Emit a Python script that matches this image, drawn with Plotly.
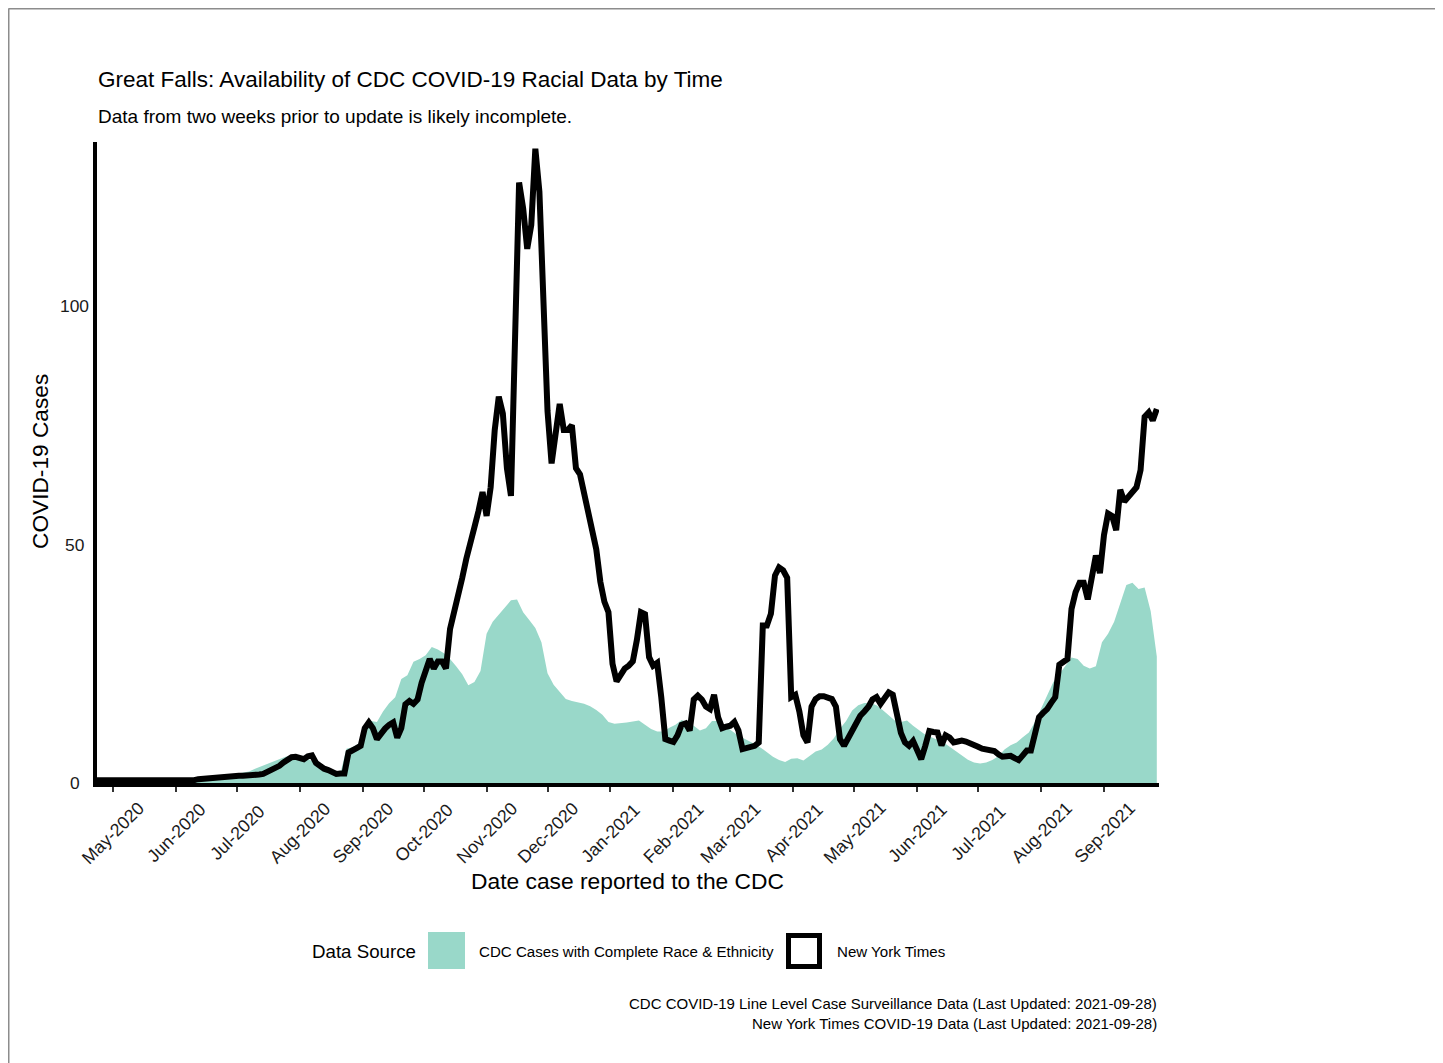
import pandas as pd
import plotly.graph_objects as go

# ---------------- data ----------------
nyt_start = "2020-04-23"   # every 2 days
nyt_cases = [
    0.6, 0.6, 0.6, 0.6, 0.6, 0.6, 0.6, 0.6,
    0.5, 0.5, 0.5, 0.5, 0.5, 0.5, 0.4, 0.4, 0.4,
    0.3, 0.3, 0.3, 0.3, 0.4, 0.5, 0.5, 0.6,
    0.8, 0.9, 1.0, 1.1, 1.2, 1.2, 1.3, 1.4,
    1.4, 1.4, 1.5, 1.5, 1.5, 1.6, 1.8, 1.8,
    1.9, 2.3, 2.7, 3.2, 3.6, 4.3, 4.8, 5.4,
    5.5, 5.4, 5.0, 5.6, 5.8, 4.2, 3.5, 3.0,
    2.7, 2.3, 1.9, 2.0, 2.0, 6.4, 7.0, 7.3,
    7.8, 11.5, 12.7, 11.5, 9.2, 10.4, 11.4, 12.2,
    12.7, 9.5, 11.5, 16.5, 17.2, 16.6, 17.5, 21.0,
    23.7, 26.0, 24.0, 25.5, 25.5, 24.0, 32.3, 35.5,
    39.0, 43.0, 47.0, 51.0, 53.6, 57.0, 61.0, 56.0,
    62.0, 74.0, 81.0, 77.5, 66.0, 60.2, 96.0, 125.9,
    120.5, 112.0, 117.0, 133.0, 124.0, 97.0, 78.0, 67.0,
    74.0, 79.5, 74.0, 74.0, 75.0, 66.0, 64.7, 61.0,
    57.0, 54.0, 49.0, 42.2, 38.0, 35.8, 25.0, 21.3,
    22.7, 24.0, 24.6, 25.5, 30.0, 35.8, 35.4, 26.4,
    24.6, 25.2, 18.0, 9.2, 8.9, 8.6, 10.0, 12.2,
    12.5, 11.0, 17.5, 18.3, 17.5, 16.0, 15.5, 18.5,
    13.8, 11.5, 11.8, 12.0, 12.8, 11.0, 7.1, 7.3,
    7.8, 7.8, 8.5, 33.0, 33.0, 35.5, 43.5, 45.2,
    44.6, 43.0, 18.0, 18.5, 15.0, 10.0, 8.5, 16.0,
    17.6, 18.2, 18.2, 18.0, 17.6, 16.0, 9.2, 7.8,
    9.5, 11.0, 12.3, 14.1, 15.0, 16.0, 17.5, 18.0,
    16.6, 18.0, 19.0, 18.5, 14.0, 10.5, 8.5, 7.8,
    8.8, 6.5, 5.0, 7.8, 10.9, 10.7, 10.6, 7.9,
    10.0, 9.5, 8.5, 8.7, 8.9, 8.7, 8.4, 8.2,
    7.6, 7.2, 7.0, 6.9, 6.7, 6.0, 5.5, 5.6,
    5.7, 5.2, 4.8, 5.8, 6.8, 6.8, 10.0, 13.8,
    14.7, 15.5, 16.8, 18.0, 24.8, 25.5, 26.0, 36.5,
    40.0, 42.0, 42.0, 38.5, 43.0, 47.7, 44.0, 52.0,
    56.5, 56.0, 53.0, 61.5, 59.0, 60.0, 61.0, 62.0,
    65.6, 76.8, 77.7, 76.0, 78.4,
]

cdc_start = "2020-04-23"   # every 3 days
cdc_cases = [
    0.1, 0.1, 0.1, 0.1, 0.1, 0.2, 0.2, 0.2, 0.2, 0.2,
    0.3, 0.3, 0.3, 0.4, 0.5, 0.7, 0.9, 1.0, 1.1, 1.3,
    1.4, 1.5, 1.7, 1.9, 2.1, 2.4, 3.0, 3.5, 4.0, 4.6,
    5.1, 5.5, 5.7, 5.6, 5.4, 4.8, 4.1, 3.4, 2.8, 2.3,
    2.0, 7.2, 7.5, 8.3, 11.5, 13.0, 12.8, 15.0, 16.7, 18.0,
    21.8, 22.6, 25.4, 26.0, 26.8, 28.5, 28.0, 27.2, 26.0, 24.5,
    22.8, 20.5, 21.2, 23.5, 31.3, 33.8, 35.3, 36.8, 38.3, 38.5,
    35.8, 34.2, 32.5, 29.5, 23.0, 20.6, 19.1, 17.6, 17.2, 16.9,
    16.6, 16.1, 15.3, 14.3, 12.8, 12.4, 12.5, 12.7, 12.9, 13.1,
    12.2, 11.3, 10.8, 10.8, 11.6, 12.2, 13.2, 12.8, 12.0, 11.0,
    11.5, 13.0, 13.0, 12.1, 11.2, 10.2, 9.5, 8.9, 8.2, 7.4,
    6.5, 5.5, 4.8, 4.4, 5.1, 5.2, 4.7, 5.7, 6.6, 7.0,
    8.0, 9.4, 11.4, 13.0, 15.2, 16.3, 16.8, 16.8, 16.3, 15.3,
    14.3, 13.1, 12.8, 13.1, 12.0, 11.0, 10.1, 9.6, 9.1, 8.5,
    7.6, 6.7, 5.8, 4.9, 4.3, 4.1, 4.3, 4.8, 5.6, 7.0,
    7.9, 8.5, 9.6, 10.6, 12.8, 15.5, 18.4, 21.1, 22.8, 24.5,
    26.3, 26.0, 24.6, 24.0, 24.5, 29.5, 31.3, 33.8, 37.5, 41.5,
    42.0, 40.7, 41.0, 36.0, 26.5,
]

month_ticks = pd.date_range("2020-05-01", "2021-09-01", freq="MS")
month_labels = [d.strftime("%b-%Y") for d in month_ticks]
y_ticks = [0, 50, 100]
y_labels = ["0", "50", "100"]

title = "Great Falls: Availability of CDC COVID-19 Racial Data by Time"
subtitle = "Data from two weeks prior to update is likely incomplete."
x_title = "Date case reported to the CDC"
y_title = "COVID-19 Cases"
legend_title = "Data Source"
legend_cdc = "CDC Cases with Complete Race & Ethnicity"
legend_nyt = "New York Times"
captions = [
    "CDC COVID-19 Line Level Case Surveillance Data (Last Updated: 2021-09-28)",
    "New York Times COVID-19 Data (Last Updated: 2021-09-28)",
]

# ---------------- figure ----------------
TEAL = "#99d8c9"
FONT = "Liberation Sans, Arial, sans-serif"
OFF = 8                      # page offset of the plot div (body margin)
W, H = 1443 - OFF, 1063 - OFF
# plot area in page pixels
L, R, T, B = 97, 1159, 142, 783


def px(x):
    return (x - L) / (R - L)


def py(y):
    return (B - y) / (B - T)


nyt_dates = pd.date_range(nyt_start, periods=len(nyt_cases), freq="2D")
cdc_dates = pd.date_range(cdc_start, periods=len(cdc_cases), freq="3D")

fig = go.Figure()
fig.add_trace(go.Scatter(
    x=cdc_dates, y=cdc_cases, mode="lines", fill="tozeroy",
    line=dict(width=0, color=TEAL), fillcolor=TEAL,
    name=legend_cdc, showlegend=False,
))
fig.add_trace(go.Scatter(
    x=nyt_dates, y=nyt_cases, mode="lines",
    line=dict(width=6, color="black"),
    name=legend_nyt, showlegend=False,
))


def note(x, y, text, size, anchor="left", angle=0, xref="paper", yref="paper",
         color="black"):
    return dict(x=x, y=y, xref=xref, yref=yref, text=text, showarrow=False,
                xanchor=anchor, yanchor="middle", textangle=angle,
                font=dict(family=FONT, size=size, color=color))


annotations = [
    note(px(96), py(80), title, 22.5),
    note(px(96), py(116.5), subtitle, 19),
    note(px(40), py(462), y_title, 22.7, "center", -90),
    note(px(627.5), py(881), x_title, 22.8, "center"),
    note(px(310), py(951), legend_title, 18.7),
    note(px(477), py(951), legend_cdc, 15.1),
    note(px(835), py(951), legend_nyt, 15.1),
]
for i, cap in enumerate(captions):
    annotations.append(note(px(1159), py(1003 + 20 * i), cap, 15.0, "right"))
for d, lab in zip(month_ticks, month_labels):
    annotations.append(note(d, py(832.5), lab, 17.8, "center", -45,
                            xref="x", color="#1a1a1a"))
for v, lab in zip(y_ticks, y_labels):
    annotations.append(note(px(74.5), v, lab, 17.4, "center",
                            yref="y", color="#1a1a1a"))

shapes = [
    dict(type="rect", xref="paper", yref="paper",
         x0=px(428), x1=px(465), y0=py(969), y1=py(932),
         fillcolor=TEAL, line=dict(width=0)),
    dict(type="rect", xref="paper", yref="paper",
         x0=px(788.5), x1=px(819.5), y0=py(966.5), y1=py(935.5),
         fillcolor="white", line=dict(width=5, color="black")),
    # page frame
    dict(type="line", xref="paper", yref="paper",
         x0=px(OFF + 0.5), x1=px(1443), y0=py(OFF + 0.75), y1=py(OFF + 0.75),
         line=dict(width=1.5, color="#8c8c8c")),
    dict(type="line", xref="paper", yref="paper",
         x0=px(OFF + 0.75), x1=px(OFF + 0.75), y0=py(OFF + 0.5), y1=py(1063),
         line=dict(width=1.5, color="#8c8c8c")),
]

fig.update_layout(
    width=W, height=H,
    margin=dict(l=L - OFF, r=W - (R - OFF), t=T - OFF, b=H - (B - OFF), pad=0),
    paper_bgcolor="white", plot_bgcolor="white",
    showlegend=False,
    annotations=annotations, shapes=shapes,
    xaxis=dict(
        type="date", range=["2020-04-23 04:00", "2021-09-28 02:00"],
        showgrid=False, zeroline=False,
        showline=True, linewidth=4, linecolor="black",
        tickvals=list(month_ticks), showticklabels=False,
        ticks="outside", ticklen=5, tickwidth=1.5, tickcolor="#333333",
    ),
    yaxis=dict(
        range=[0, 134.4], showgrid=False, zeroline=False,
        showline=True, linewidth=4, linecolor="black",
        tickvals=y_ticks, ticks="", showticklabels=False,
    ),
)

fig.write_html("out.html")
